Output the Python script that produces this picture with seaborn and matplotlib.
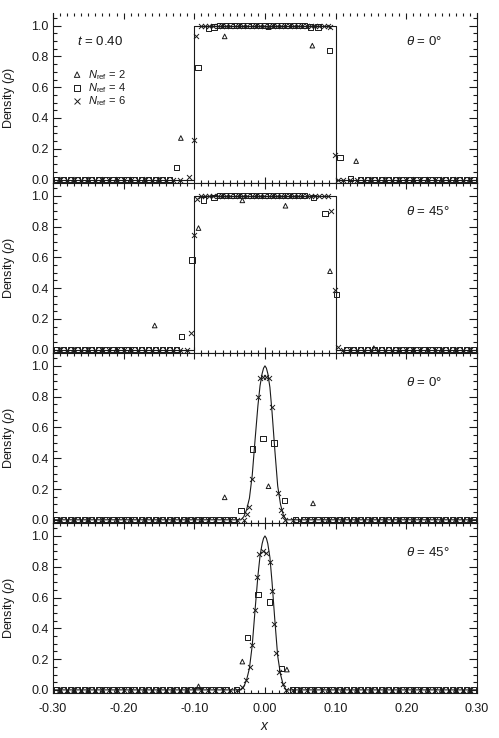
import matplotlib
matplotlib.use("Agg")
import matplotlib.pyplot as plt
from matplotlib.ticker import MultipleLocator, FormatStrFormatter
import seaborn as sns

# exact solutions
hat_x = [-0.30, -0.10, -0.10, 0.10, 0.10, 0.30]
hat_rho = [0.0, 0.0, 1.0, 1.0, 0.0, 0.0]
gauss_x = [-0.30, -0.034, -0.030, -0.026, -0.022, -0.018, -0.014, -0.010, -0.007, -0.004, -0.002,
           0.0, 0.002, 0.004, 0.007, 0.010, 0.014, 0.018, 0.022, 0.026, 0.030, 0.30]
gauss_rho = [0.0, 0.0, 0.02, 0.065, 0.14, 0.29, 0.52, 0.74, 0.87, 0.95, 0.985,
             1.0, 0.985, 0.95, 0.86, 0.70, 0.45, 0.22, 0.10, 0.03, 0.0, 0.0]

# cells sitting on rho = 0 away from the profile
base_x_n2 = [-0.29, -0.27, -0.25, -0.23, -0.21, -0.19, -0.17, -0.15, -0.13, -0.11,
             -0.09, -0.07, -0.05, -0.03, -0.01, 0.01, 0.03, 0.05, 0.07, 0.09,
             0.11, 0.13, 0.15, 0.17, 0.19, 0.21, 0.23, 0.25, 0.27, 0.29]
base_x_n4 = [-0.295, -0.285, -0.275, -0.265, -0.255, -0.245, -0.235, -0.225, -0.215, -0.205,
             -0.195, -0.185, -0.175, -0.165, -0.155, -0.145, -0.135, -0.125, -0.115, -0.105,
             -0.095, -0.085, -0.075, -0.065, -0.055, -0.045, -0.035, -0.025, -0.015, -0.005,
             0.005, 0.015, 0.025, 0.035, 0.045, 0.055, 0.065, 0.075, 0.085, 0.095,
             0.105, 0.115, 0.125, 0.135, 0.145, 0.155, 0.165, 0.175, 0.185, 0.195,
             0.205, 0.215, 0.225, 0.235, 0.245, 0.255, 0.265, 0.275, 0.285, 0.295]
base_x_n6 = [-0.29, -0.28, -0.27, -0.26, -0.25, -0.24, -0.23, -0.22, -0.21, -0.20,
             -0.19, -0.18, -0.17, -0.16, -0.15, -0.14, -0.13, -0.12, -0.11, -0.10,
             -0.09, -0.08, -0.07, -0.06, -0.05, -0.04, -0.03, -0.02, -0.01, 0.0,
             0.01, 0.02, 0.03, 0.04, 0.05, 0.06, 0.07, 0.08, 0.09, 0.10,
             0.11, 0.12, 0.13, 0.14, 0.15, 0.16, 0.17, 0.18, 0.19, 0.20,
             0.21, 0.22, 0.23, 0.24, 0.25, 0.26, 0.27, 0.28, 0.29]

# cells sitting on rho = 1 (top hat plateau)
plat_x_n4 = [-0.064, -0.056, -0.048, -0.040, -0.032, -0.024, -0.016, -0.008,
             0.0, 0.008, 0.016, 0.024, 0.032, 0.040, 0.048, 0.056]
plat_x_n6 = [-0.091, -0.085, -0.079, -0.073, -0.067, -0.061, -0.055, -0.049, -0.043, -0.037,
             -0.031, -0.025, -0.019, -0.013, -0.007, -0.001, 0.005, 0.011, 0.017, 0.023,
             0.029, 0.035, 0.041, 0.047, 0.053, 0.059, 0.065, 0.071, 0.077, 0.083, 0.089]

# panel 1: top hat, theta = 0
p1_n2_x = [-0.119, -0.057, 0.005, 0.067, 0.129]
p1_n2_rho = [0.27, 0.93, 0.99, 0.87, 0.12]
p1_n4_x = [-0.125, -0.095, -0.080, -0.072, 0.064, 0.075, 0.091, 0.106, 0.121]
p1_n4_rho = [0.08, 0.73, 0.98, 0.99, 0.99, 0.99, 0.84, 0.145, 0.005]
p1_n6_x = [-0.107, -0.101, -0.097, 0.092, 0.099, 0.104]
p1_n6_rho = [0.015, 0.255, 0.935, 0.99, 0.16, 0.0]

# panel 2: top hat, theta = 45
p2_n2_x = [-0.156, -0.094, -0.032, 0.029, 0.092, 0.154]
p2_n2_rho = [0.157, 0.79, 0.97, 0.935, 0.51, 0.01]
p2_n4_x = [-0.118, -0.103, -0.087, -0.072, 0.069, 0.085, 0.101, 0.116]
p2_n4_rho = [0.087, 0.583, 0.973, 0.99, 0.99, 0.886, 0.36, 0.0]
p2_n6_x = [-0.105, -0.100, -0.096, 0.094, 0.0986, 0.103]
p2_n6_rho = [0.107, 0.744, 0.98, 0.90, 0.39, 0.015]

# panel 3: gaussian, theta = 0
p3_n2_x = [-0.057, 0.005, 0.068]
p3_n2_rho = [0.146, 0.218, 0.107]
p3_n4_x = [-0.034, -0.018, -0.003, 0.013, 0.028, 0.043]
p3_n4_rho = [0.061, 0.46, 0.527, 0.498, 0.125, 0.0]
p3_n6_x = [-0.030, -0.026, -0.022, -0.018, -0.010, -0.007, -0.003, 0.002, 0.006, 0.0105,
           0.019, 0.0225, 0.026, 0.029]
p3_n6_rho = [0.0, 0.038, 0.081, 0.263, 0.80, 0.92, 0.93, 0.93, 0.92, 0.733,
             0.175, 0.064, 0.027, 0.0]

# panel 4: gaussian, theta = 45
p4_n2_x = [-0.094, -0.032, 0.031]
p4_n2_rho = [0.023, 0.184, 0.132]
p4_n4_x = [-0.040, -0.0245, -0.0099, 0.0066, 0.0231, 0.039]
p4_n4_rho = [0.0, 0.342, 0.619, 0.571, 0.138, 0.0]
p4_n6_x = [-0.032, -0.0264, -0.0217, -0.018, -0.0142, -0.0109, -0.0085, -0.0028, 0.0015,
           0.0066, 0.0094, 0.0127, 0.016, 0.0198, 0.0255, 0.0292]
p4_n6_rho = [0.016, 0.064, 0.146, 0.292, 0.516, 0.733, 0.886, 0.90, 0.89,
             0.828, 0.64, 0.43, 0.238, 0.114, 0.038, 0.0]

angles = ["0", "45", "0", "45"]

sns.set_theme(style="ticks")
plt.rcParams["font.family"] = ["Liberation Sans", "DejaVu Sans"]
plt.rcParams["mathtext.fontset"] = "custom"
plt.rcParams["mathtext.rm"] = "Liberation Sans"
plt.rcParams["mathtext.it"] = "Liberation Sans:italic"
for key in ["text.color", "axes.labelcolor", "xtick.color", "ytick.color", "axes.edgecolor"]:
    plt.rcParams[key] = "k"


def collect(fx, frho, base, lo, hi, plat=()):
    outside = [b for b in base if b < lo or b > hi]
    xs = list(fx) + list(plat) + outside
    ys = list(frho) + [1.0] * len(plat) + [0.0] * len(outside)
    return xs, ys


panels = [
    (hat_x, hat_rho,
     collect(p1_n2_x, p1_n2_rho, base_x_n2, -0.14, 0.145),
     collect(p1_n4_x, p1_n4_rho, base_x_n4, -0.13, 0.128, plat_x_n4),
     collect(p1_n6_x, p1_n6_rho, base_x_n6, -0.112, 0.108, plat_x_n6)),
    (hat_x, hat_rho,
     collect(p2_n2_x, p2_n2_rho, base_x_n2, -0.17, 0.17),
     collect(p2_n4_x, p2_n4_rho, base_x_n4, -0.122, 0.12, plat_x_n4),
     collect(p2_n6_x, p2_n6_rho, base_x_n6, -0.109, 0.108, plat_x_n6)),
    (gauss_x, gauss_rho,
     collect(p3_n2_x, p3_n2_rho, base_x_n2, -0.07, 0.08),
     collect(p3_n4_x, p3_n4_rho, base_x_n4, -0.04, 0.048),
     collect(p3_n6_x, p3_n6_rho, base_x_n6, -0.034, 0.033)),
    (gauss_x, gauss_rho,
     collect(p4_n2_x, p4_n2_rho, base_x_n2, -0.10, 0.04),
     collect(p4_n4_x, p4_n4_rho, base_x_n4, -0.045, 0.043),
     collect(p4_n6_x, p4_n6_rho, base_x_n6, -0.036, 0.033)),
]

fig, axes = plt.subplots(4, 1, figsize=(4.99, 7.38), dpi=100, sharex=True)
fig.subplots_adjust(left=0.106, right=0.956, top=0.983, bottom=0.061, hspace=0)

for i, (ax, (cx, cy, n2, n4, n6)) in enumerate(zip(axes, panels)):
    sns.lineplot(x=cx, y=cy, sort=False, estimator=None, color="k", lw=0.8, ax=ax)
    sns.scatterplot(x=n2[0], y=n2[1], marker="^", s=11, facecolor="none", edgecolor="k",
                    linewidth=0.7, ax=ax, legend=False, zorder=3)
    sns.scatterplot(x=n4[0], y=n4[1], marker="s", s=15, facecolor="none", edgecolor="k",
                    linewidth=0.7, ax=ax, legend=False, zorder=3)
    sns.scatterplot(x=n6[0], y=n6[1], marker="x", s=13, color="k",
                    linewidth=0.7, ax=ax, legend=False, zorder=3)

    ax.set_xlim(-0.30, 0.30)
    ax.set_ylim(-0.02, 1.085)
    ax.xaxis.set_major_locator(MultipleLocator(0.1))
    ax.xaxis.set_minor_locator(MultipleLocator(0.01))
    ax.yaxis.set_major_locator(MultipleLocator(0.2))
    ax.yaxis.set_minor_locator(MultipleLocator(0.05))
    ax.yaxis.set_major_formatter(FormatStrFormatter("%.1f"))
    ax.xaxis.set_major_formatter(FormatStrFormatter("%.2f"))
    ax.tick_params(axis="both", which="both", direction="in", top=True, right=True,
                   width=0.8, labelsize=9, color="k", labelcolor="k")
    ax.tick_params(axis="y", which="major", length=6, pad=3)
    ax.tick_params(axis="y", which="minor", length=3)
    ax.tick_params(axis="x", which="major", length=4.5, pad=7)
    ax.tick_params(axis="x", which="minor", length=2.5)
    for sp in ax.spines.values():
        sp.set_linewidth(0.8)
        sp.set_color("k")
    ax.set_ylabel(r"Density ($\rho$)", fontsize=9)
    ax.yaxis.set_label_coords(-0.085, 0.5)
    ax.text(0.833, 0.828, r"$\theta$ = " + angles[i] + "°", transform=ax.transAxes,
            fontsize=9.5, va="center", ha="left")

axes[0].spines["top"].set_visible(False)
axes[0].text(0.057, 0.828, r"$t$ = 0.40", transform=axes[0].transAxes,
             fontsize=9.5, va="center", ha="left")

legend_rows = [("^", 11, r"$N_{\rm ref}$ = 2", 0.635),
               ("s", 15, r"$N_{\rm ref}$ = 4", 0.558),
               ("x", 13, r"$N_{\rm ref}$ = 6", 0.481)]
for mk, sz, lab, yy in legend_rows:
    if mk == "x":
        axes[0].scatter([0.057], [yy], marker=mk, s=sz * 1.4, color="k", linewidths=0.7,
                        transform=axes[0].transAxes)
    else:
        axes[0].scatter([0.057], [yy], marker=mk, s=sz * 1.4, facecolor="none", edgecolor="k",
                        linewidths=0.7, transform=axes[0].transAxes)
    axes[0].text(0.083, yy, lab, transform=axes[0].transAxes, fontsize=8, va="center")

axes[-1].set_xlabel(r"$x$", fontsize=10, labelpad=3)

plt.savefig("out.png", dpi=100)
